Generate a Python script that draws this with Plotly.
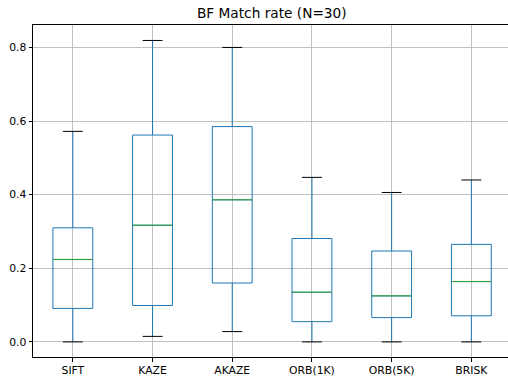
import plotly.graph_objects as go

categories = ["SIFT", "KAZE", "AKAZE", "ORB(1K)", "ORB(5K)", "BRISK"]
lower = [0.0, 0.015, 0.028, 0.0, 0.0, 0.0]
q1 = [0.091, 0.099, 0.160, 0.055, 0.066, 0.071]
median = [0.224, 0.317, 0.386, 0.135, 0.125, 0.164]
q3 = [0.310, 0.562, 0.585, 0.281, 0.247, 0.265]
upper = [0.572, 0.819, 0.800, 0.447, 0.406, 0.440]
yticks = [0.0, 0.2, 0.4, 0.6, 0.8]

positions = list(range(1, len(categories) + 1))
BOX_W = 0.5
CAP_W = 0.25
BLUE = "#1f77b4"
GREEN = "#2ca02c"

fig = go.Figure()
for i, name in enumerate(categories):
    fig.add_trace(go.Box(
        x=[positions[i]], q1=[q1[i]], median=[median[i]], q3=[q3[i]],
        lowerfence=[lower[i]], upperfence=[upper[i]],
        width=BOX_W, whiskerwidth=0, line=dict(color=BLUE, width=1),
        fillcolor="rgba(0,0,0,0)", boxpoints=False, showlegend=False,
        hoverinfo="skip", name=name,
    ))

# medians (green) and whisker caps (black)
mx, my, cx, cy = [], [], [], []
for i in range(len(categories)):
    p = positions[i]
    mx += [p - BOX_W / 2, p + BOX_W / 2, None]
    my += [median[i], median[i], None]
    for v in (lower[i], upper[i]):
        cx += [p - CAP_W / 2, p + CAP_W / 2, None]
        cy += [v, v, None]
fig.add_trace(go.Scatter(x=mx, y=my, mode="lines", line=dict(color=GREEN, width=1),
                         showlegend=False, hoverinfo="skip"))
fig.add_trace(go.Scatter(x=cx, y=cy, mode="lines", line=dict(color="black", width=1),
                         showlegend=False, hoverinfo="skip"))

font = "DejaVu Sans"
fig.update_layout(
    width=508, height=380,
    margin=dict(l=33, r=0, t=25, b=23, autoexpand=False),
    paper_bgcolor="white", plot_bgcolor="white",
    font=dict(family=font, size=11, color="black"),
    title=dict(text="BF Match rate (N=30)", x=0.535, xanchor="center", y=0.965, yanchor="middle",
               font=dict(family=font, size=13.7, color="black")),
    xaxis=dict(range=[0.5, 6.46], tickmode="array", tickvals=positions, ticktext=categories,
               automargin=False, tickfont=dict(size=10.8),
               showgrid=True, gridcolor="#b0b0b0", gridwidth=0.8, zeroline=False,
               showline=True, linecolor="black", linewidth=1, mirror=True,
               ticks="outside", ticklen=3.5, tickcolor="black"),
    yaxis=dict(range=[-0.041, 0.861], tickmode="array", tickvals=yticks,
               ticktext=[f"{v:.1f}" for v in yticks], automargin=False, tickfont=dict(size=10.8),
               showgrid=True, gridcolor="#b0b0b0", gridwidth=0.8, zeroline=False,
               showline=True, linecolor="black", linewidth=1, mirror=False,
               ticks="outside", ticklen=3.5, tickcolor="black"),
)

fig.write_html("out.html", config={"displayModeBar": False, "staticPlot": True},
               post_script="document.body.style.margin='0';document.body.style.overflow='hidden';")
